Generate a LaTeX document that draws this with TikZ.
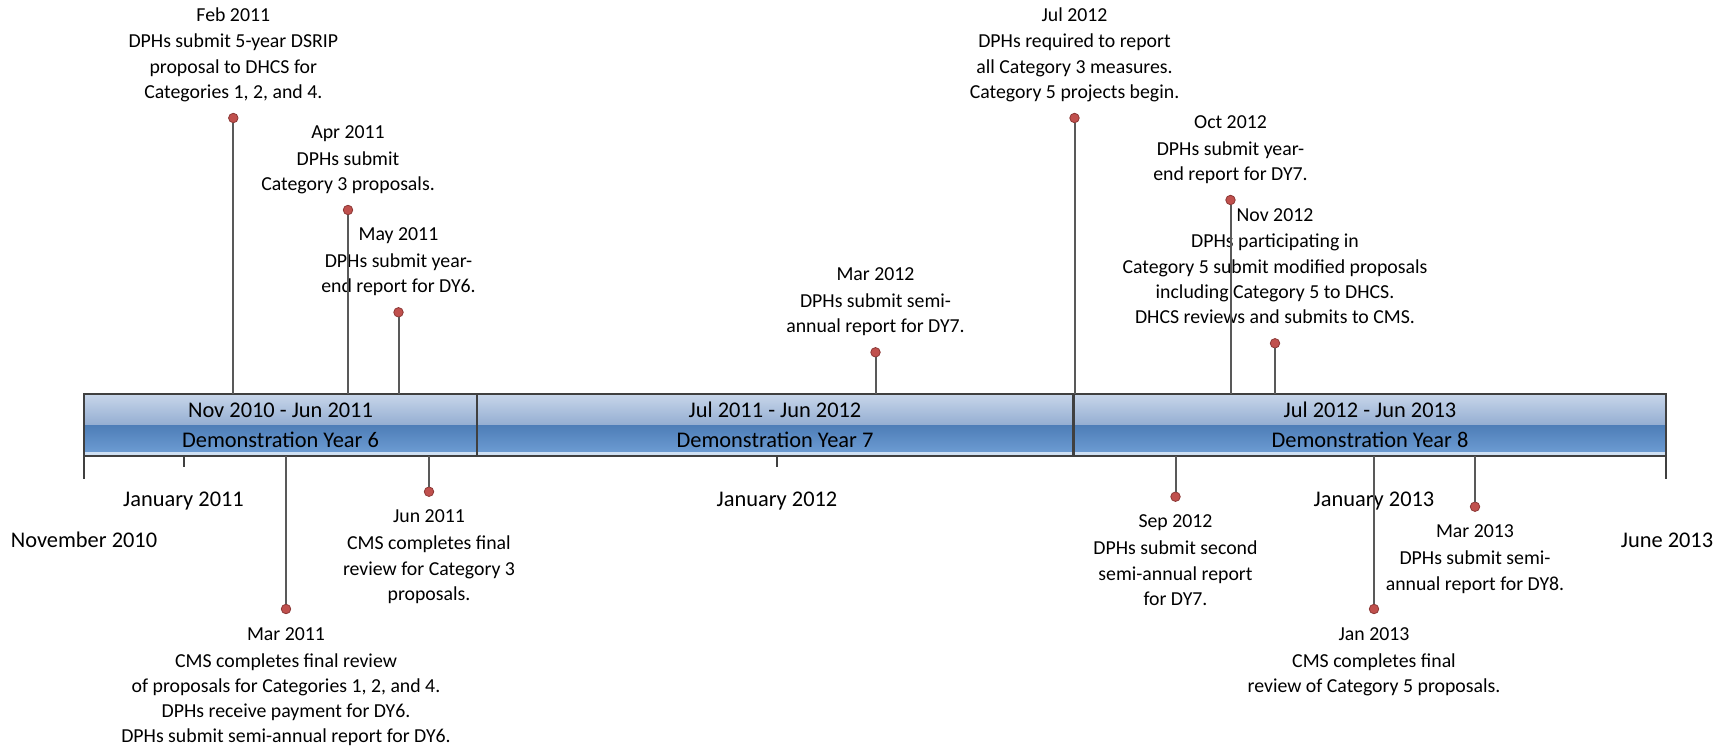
\documentclass[tikz,border=0pt]{standalone}
\usepackage{fontspec}
\setmainfont{Carlito}
\definecolor{lineg}{HTML}{595959}
\definecolor{dotred}{HTML}{C0504D}
\definecolor{dotedge}{HTML}{8C3836}
\definecolor{barline}{HTML}{404040}
\definecolor{ltA}{HTML}{C8D6EA}
\definecolor{ltB}{HTML}{93ADD1}
\definecolor{dkA}{HTML}{4E7EB8}
\definecolor{dkB}{HTML}{6C9BD2}
\definecolor{glint}{HTML}{CFE0F3}
\tikzset{
  evtext/.style={align=center, inner sep=0pt, font=\fontsize{19.8}{25.3}\selectfont},
  evdot/.style={circle, fill=dotred, draw=dotedge, line width=0.8pt, minimum size=9.5pt, inner sep=0pt},
  stem/.style={draw=lineg, line width=2pt},
  axlabel/.style={inner sep=0pt, anchor=base, font=\fontsize{22.4}{27}\selectfont},
  barlabel/.style={inner sep=0pt, anchor=base, font=\fontsize{22.4}{27}\selectfont},
  tickline/.style={draw=barline, line width=2pt},
  barframe/.style={draw=barline, line width=2.5pt},
}
\begin{document}
\begin{tikzpicture}[x=1pt,y=-1pt]
\fill[white] (0,0) rectangle (1732,746);
\useasboundingbox (0,0) rectangle (1732,746);

% ---------- bar ----------
\shade[top color=ltA, bottom color=ltB] (84,394) rectangle (1666,425.5);
\shade[top color=dkA, bottom color=dkB] (84,425.5) rectangle (1666,452);
\fill[glint] (84,452) rectangle (1666,454.5);
\draw[barframe] (84,394) rectangle (1666,456);
\draw[barframe] (477,394) -- (477,456);
\draw[barframe] (1073.5,394) -- (1073.5,456);

\node[barlabel] (r6) at (280.5,417) {Nov 2010 - Jun 2011};
\node[barlabel] (y6) at (280.5,447.5) {Demonstration Year 6};
\node[barlabel] (r7) at (775,417) {Jul 2011 - Jun 2012};
\node[barlabel] (y7) at (775,447.5) {Demonstration Year 7};
\node[barlabel] (r8) at (1370,417) {Jul 2012 - Jun 2013};
\node[barlabel] (y8) at (1370,447.5) {Demonstration Year 8};

% ---------- axis ticks and labels ----------
\coordinate (k0a) at (84,456);   \coordinate (k0b) at (84,479);
\coordinate (k1a) at (183.5,456); \coordinate (k1b) at (183.5,467);
\coordinate (k2a) at (777,456);  \coordinate (k2b) at (777,467);
\coordinate (k3a) at (1374,456); \coordinate (k3b) at (1374,467);
\coordinate (k4a) at (1666,456); \coordinate (k4b) at (1666,479);
\draw[tickline] (k0a) -- (k0b);
\draw[tickline] (k1a) -- (k1b);
\draw[tickline] (k2a) -- (k2b);
\draw[tickline] (k3a) -- (k3b);
\draw[tickline] (k4a) -- (k4b);

\node[axlabel] (ax0) at (84,547.5) {November 2010};
\node[axlabel] (ax1) at (183.5,506) {January 2011};
\node[axlabel] (ax2) at (777,506) {January 2012};
\node[axlabel] (ax3) at (1374,506) {January 2013};
\node[axlabel] (ax4) at (1667,547.5) {June 2013};

% ---------- events above ----------
\node[evtext, anchor=south] (l1) at (233.3,106.3) {\strut Feb 2011\\[1.5pt] DPHs submit 5-year DSRIP\\ proposal to DHCS for\\ Categories 1, 2, and 4.\strut};
\node[evdot] (d1) at (233.3,118) {};
\coordinate (t1) at (233.3,394);

\node[evtext, anchor=south] (l2) at (348,198.3) {\strut Apr 2011\\[1.5pt] DPHs submit\\ Category 3 proposals.\strut};
\node[evdot] (d2) at (348,210) {};
\coordinate (t2) at (348,394);

\node[evtext, anchor=south] (l3) at (398.5,300.6) {\strut May 2011\\[1.5pt] DPHs submit year-\\ end report for DY6.\strut};
\node[evdot] (d3) at (398.5,312.3) {};
\coordinate (t3) at (398.5,394);

\node[evtext, anchor=south] (l4) at (875.5,340.6) {\strut Mar 2012\\[1.5pt] DPHs submit semi-\\ annual report for DY7.\strut};
\node[evdot] (d4) at (875.5,352.3) {};
\coordinate (t4) at (875.5,394);

\node[evtext, anchor=south] (l5) at (1074.5,106.3) {\strut Jul 2012\\[1.5pt] DPHs required to report\\ all Category 3 measures.\\ Category 5 projects begin.\strut};
\node[evdot] (d5) at (1074.5,118) {};
\coordinate (t5) at (1074.5,394);

\node[evtext, anchor=south] (l6) at (1230.5,188.3) {\strut Oct 2012\\[1.5pt] DPHs submit year-\\ end report for DY7.\strut};
\node[evdot] (d6) at (1230.5,200) {};
\coordinate (t6) at (1230.5,394);

\node[evtext, anchor=south] (l7) at (1275,331.6) {\strut Nov 2012\\[1.5pt] DPHs participating in\\ Category 5 submit modified proposals\\ including Category 5 to DHCS.\\ DHCS reviews and submits to CMS.\strut};
\node[evdot] (d7) at (1275,343.3) {};
\coordinate (t7) at (1275,394);

% ---------- events below ----------
\node[evtext, anchor=north] (m1) at (286,622.3) {\strut Mar 2011\\[1.5pt] CMS completes final review\\ of proposals for Categories 1, 2, and 4.\\ DPHs receive payment for DY6.\\ DPHs submit semi-annual report for DY6.\strut};
\node[evdot] (e1) at (286,609) {};
\coordinate (b1) at (286,456);

\node[evtext, anchor=north] (m2) at (429,505) {\strut Jun 2011\\[1.5pt] CMS completes final\\ review for Category 3\\ proposals.\strut};
\node[evdot] (e2) at (429,491.7) {};
\coordinate (b2) at (429,456);

\node[evtext, anchor=north] (m3) at (1175.5,510) {\strut Sep 2012\\[1.5pt] DPHs submit second\\ semi-annual report\\ for DY7.\strut};
\node[evdot] (e3) at (1175.5,496.7) {};
\coordinate (b3) at (1175.5,456);

\node[evtext, anchor=north] (m4) at (1374,622.3) {\strut Jan 2013\\[1.5pt] CMS completes final\\ review of Category 5 proposals.\strut};
\node[evdot] (e4) at (1374,609) {};
\coordinate (b4) at (1374,456);

\node[evtext, anchor=north] (m5) at (1475,520) {\strut Mar 2013\\[1.5pt] DPHs submit semi-\\ annual report for DY8.\strut};
\node[evdot] (e5) at (1475,506.7) {};
\coordinate (b5) at (1475,456);

% ---------- stems ----------
\draw[stem] (d1) -- (t1);
\draw[stem] (d2) -- (t2);
\draw[stem] (d3) -- (t3);
\draw[stem] (d4) -- (t4);
\draw[stem] (d5) -- (t5);
\draw[stem] (d6) -- (t6);
\draw[stem] (d7) -- (t7);
\draw[stem] (b1) -- (e1);
\draw[stem] (b2) -- (e2);
\draw[stem] (b3) -- (e3);
\draw[stem] (b4) -- (e4);
\draw[stem] (b5) -- (e5);
\end{tikzpicture}
\end{document}
